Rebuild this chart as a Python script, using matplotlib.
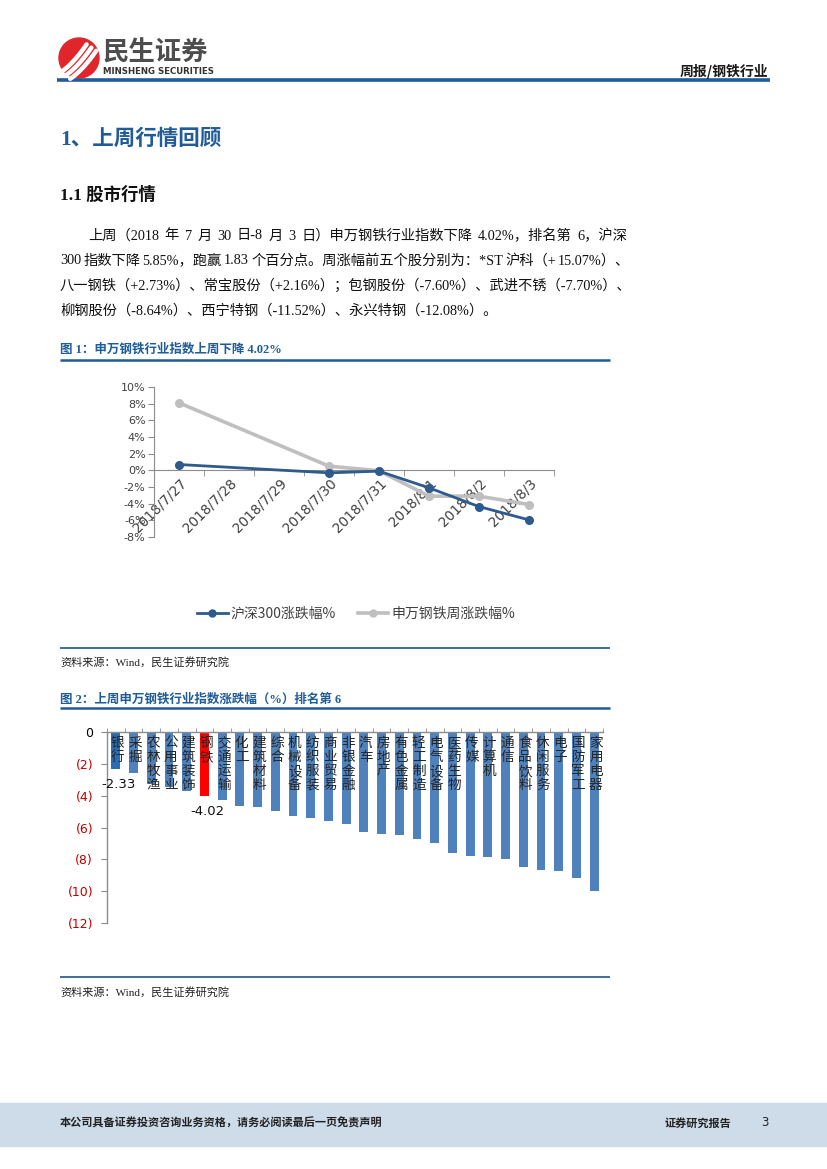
import matplotlib
matplotlib.use("Agg")
import matplotlib.pyplot as plt
from matplotlib.patches import Circle, Rectangle
from matplotlib.lines import Line2D
import numpy as np

plt.rcParams['font.family'] = ['Noto Sans CJK SC', 'DejaVu Sans']

# ---------------- data ----------------
dates = ['2018/7/27', '2018/7/28', '2018/7/29', '2018/7/30',
         '2018/7/31', '2018/8/1', '2018/8/2', '2018/8/3']
point_days = [0, 3, 4, 5, 6, 7]           # trading days (index into dates)
hs300 = [0.7, -0.3, -0.1, -2.1, -4.35, -5.95]
sw_steel = [8.1, 0.5, -0.05, -3.1, -3.1, -4.1]
y1_ticks = [10, 8, 6, 4, 2, 0, -2, -4, -6, -8]
series_names = ['沪深300涨跌幅%', '申万钢铁周涨跌幅%']

industries = ['银行', '采掘', '农林牧渔', '公用事业', '建筑装饰', '钢铁', '交通运输',
              '化工', '建筑材料', '综合', '机械设备', '纺织服装', '商业贸易', '非银金融',
              '汽车', '房地产', '有色金属', '轻工制造', '电气设备', '医药生物', '传媒',
              '计算机', '通信', '食品饮料', '休闲服务', '电子', '国防军工', '家用电器']
changes = [-2.33, -2.6, -3.25, -3.45, -3.68, -4.02, -4.3, -4.62, -4.72, -4.98,
           -5.25, -5.38, -5.6, -5.75, -6.27, -6.41, -6.48, -6.72, -6.95, -7.61,
           -7.76, -7.88, -7.97, -8.5, -8.69, -8.75, -9.19, -10.0]
y2_ticks = [0, -2, -4, -6, -8, -10, -12]
y2_labels = ['0', '(2)', '(4)', '(6)', '(8)', '(10)', '(12)']

body_lines = [
    '上周（2018 年 7 月 30 日-8 月 3 日）申万钢铁行业指数下降 4.02%，排名第 6，沪深',
    '300 指数下降 5.85%，跑赢 1.83 个百分点。周涨幅前五个股分别为：*ST 沪科（+ 15.07%）、',
    '八一钢铁（+2.73%）、常宝股份（+2.16%）；包钢股份（-7.60%）、武进不锈（-7.70%）、',
    '柳钢股份（-8.64%）、西宁特钢（-11.52%）、永兴特钢（-12.08%）。',
]

# ---------------- page ----------------
W, H = 827, 1169
fig = plt.figure(figsize=(W / 100, H / 100), dpi=100)
page = fig.add_axes([0, 0, 1, 1], zorder=0)
page.set_xlim(0, W)
page.set_ylim(H, 0)
page.axis('off')

BLUE = '#1f5c99'
serif = ['Liberation Serif', 'Noto Sans CJK SC']

# logo
page.add_patch(Circle((79, 58), 20, color='#e0262b', zorder=2))
for off in [-9, -1, 7]:
    t = np.linspace(0, 1, 30)
    xs = 66 + off * 0.6 + t * 26
    ys = 76 - t * 28 + 10 * t * (1 - t) + off * 0.4
    page.plot(xs, ys, color='white', lw=3.2, solid_capstyle='round', zorder=3)
page.text(103, 53, '民生证券', fontsize=19, fontweight='bold', color='#4d4d4d',
          va='center', ha='left')
page.text(103, 72, 'MINSHENG SECURITIES', fontsize=6.2, fontweight='bold',
          color='#333333', va='center', ha='left', family=['DejaVu Sans'])
page.text(768, 71, '周报/钢铁行业', fontsize=10, fontweight='bold', color='#1a1a1a',
          va='center', ha='right')
page.plot([57, 770], [80, 80], color=BLUE, lw=2.6, solid_capstyle='butt')

# headings
page.text(60, 140, '1、上周行情回顾', fontsize=15.5, fontweight='bold', color=BLUE,
          va='center', ha='left', family=serif)
page.text(60, 195, '1.1 股市行情', fontsize=12.5, fontweight='bold', color='#111111',
          va='center', ha='left', family=serif)

# body text (lines 1-2 justified to the right margin by spreading the word gaps)
body_y = [236, 261, 286, 311]
body_x = [88, 60, 60, 60]
RIGHT = 627
BODY_FS = 10.3
MIN_GAP = 2.2
fig.canvas.draw()
rend = fig.canvas.get_renderer()
for k, (s, x, y) in enumerate(zip(body_lines, body_x, body_y)):
    chunks = s.split(' ') if k < 2 else [s]
    if len(chunks) == 1:
        page.text(x, y, s, fontsize=BODY_FS, color='#111111', va='center', ha='left',
                  family=serif)
        continue
    objs = [page.text(0, y, c, fontsize=BODY_FS, color='#111111', va='center',
                      ha='left', family=serif) for c in chunks]
    widths = [o.get_window_extent(rend).width for o in objs]
    gap = max(MIN_GAP, (RIGHT - x - sum(widths)) / (len(chunks) - 1))
    cx = x
    for o, w in zip(objs, widths):
        o.set_x(cx)
        cx += w + gap

# figure 1 caption
page.text(60, 349, '图 1：申万钢铁行业指数上周下降 4.02%', fontsize=9, fontweight='bold',
          color=BLUE, va='center', ha='left', family=serif)
page.plot([60, 610], [360, 360], color=BLUE, lw=1.8, solid_capstyle='butt')
page.plot([60, 610], [648, 648], color='#3f6f99', lw=1.4, solid_capstyle='butt')
page.text(60, 662, '资料来源：Wind，民生证券研究院', fontsize=8, color='#222222',
          va='center', ha='left', family=serif)

# figure 2 caption
page.text(60, 699, '图 2：上周申万钢铁行业指数涨跌幅（%）排名第 6', fontsize=9,
          fontweight='bold', color=BLUE, va='center', ha='left', family=serif)
page.plot([60, 610], [708, 708], color=BLUE, lw=1.8, solid_capstyle='butt')
page.plot([60, 610], [977, 977], color='#3f6f99', lw=1.4, solid_capstyle='butt')
page.text(60, 992, '资料来源：Wind，民生证券研究院', fontsize=8, color='#222222',
          va='center', ha='left', family=serif)

# footer
page.add_patch(Rectangle((0, 1103), W, 43, color='#cedbe8', zorder=1))
page.text(60, 1123, '本公司具备证券投资咨询业务资格，请务必阅读最后一页免责声明',
          fontsize=8, fontweight='bold', color='#222222', va='center', ha='left', zorder=3)
page.text(665, 1123, '证券研究报告', fontsize=8, fontweight='bold', color='#222222',
          va='center', ha='left', zorder=3)
page.text(765, 1123, '3', fontsize=8.5, color='#222222', va='center', ha='center',
          zorder=3, family=['DejaVu Sans'])


def px_axes(left, top, right, bottom):
    return fig.add_axes([left / W, 1 - bottom / H, (right - left) / W, (bottom - top) / H],
                        zorder=2)


# ---------------- chart 1 ----------------
ax1 = px_axes(154, 387, 554, 537)
ax1.patch.set_alpha(0)
ax1.plot(point_days, sw_steel, color='#bfbfbf', lw=2.6, marker='o', ms=5.5,
         label=series_names[1], zorder=2)
ax1.plot(point_days, hs300, color='#2e5a8e', lw=2.0, marker='o', ms=5.5,
         label=series_names[0], zorder=3)
ax1.set_xlim(-0.5, len(dates) - 0.5)
ax1.set_ylim(-8, 10)
ax1.set_yticks(y1_ticks)
ax1.set_yticklabels([f'{v}%' for v in y1_ticks], fontsize=8, color='#404040',
                    family=['DejaVu Sans'])
for sp in ['top', 'right']:
    ax1.spines[sp].set_visible(False)
ax1.spines['bottom'].set_position(('data', 0))
for sp in ['bottom', 'left']:
    ax1.spines[sp].set_color('#8c8c8c')
    ax1.spines[sp].set_linewidth(0.8)
ax1.set_xticks(range(len(dates)))
ax1.set_xticklabels(dates, rotation=45, ha='right', va='top', rotation_mode='anchor',
                    fontsize=9.8, color='#404040', family=['DejaVu Sans'])
ax1.set_xticks(np.arange(-0.5, len(dates)), minor=True)
ax1.tick_params(axis='x', which='major', length=0, pad=4)
ax1.tick_params(axis='x', which='minor', length=4, color='#8c8c8c', direction='out')
ax1.tick_params(axis='y', length=4, color='#8c8c8c', pad=2)

handles = [Line2D([], [], color='#2e5a8e', lw=2.0, marker='o', ms=5),
           Line2D([], [], color='#bfbfbf', lw=2.6, marker='o', ms=5)]
fig.legend(handles, series_names, loc='center', bbox_to_anchor=(356 / W, 1 - 614 / H),
           ncol=2, frameon=False, fontsize=10, handlelength=2.2, columnspacing=1.6,
           handletextpad=0.2, labelcolor='#404040')

# ---------------- chart 2 ----------------
ax2 = px_axes(107, 732, 603, 923)
ax2.patch.set_alpha(0)
xpos = np.arange(len(industries))
colors = ['#4f81bd'] * len(industries)
colors[0] = '#2a6db3'
colors[industries.index('钢铁')] = '#ff0000'
ax2.bar(xpos, changes, width=0.5, color=colors, zorder=2)
ax2.set_xlim(-0.5, len(industries) - 0.5)
ax2.set_ylim(-12, 0)
ax2.set_yticks(y2_ticks)
ax2.set_yticklabels(y2_labels, fontsize=9, family=['DejaVu Sans'])
for lab in ax2.get_yticklabels():
    lab.set_color('#000000' if lab.get_text() == '0' else '#c00000')
for sp in ['bottom', 'right']:
    ax2.spines[sp].set_visible(False)
for sp in ['top', 'left']:
    ax2.spines[sp].set_color('#8c8c8c')
    ax2.spines[sp].set_linewidth(1.0)
ax2.set_xticks([])
ax2.set_xticks(np.arange(-0.5, len(industries)), minor=True)
ax2.xaxis.set_ticks_position('top')
ax2.tick_params(axis='x', which='minor', top=True, bottom=False, length=3,
                color='#8c8c8c', direction='out', labeltop=False)
ax2.tick_params(axis='y', length=4, color='#8c8c8c', pad=6)

for i, name in enumerate(industries):
    ax2.text(i + 0.1, -0.25, '\n'.join(name), ha='center', va='top', fontsize=9.8,
             linespacing=1.0, color='#262626', zorder=3)

for name in ['银行', '钢铁']:
    i = industries.index(name)
    v = changes[i]
    ax2.text(i + 0.15, v - 0.55, f'{v:.2f}', ha='center', va='top', fontsize=9.5,
             color='#111111', family=['DejaVu Sans'], zorder=3)

fig.savefig('out.png', dpi=100)
